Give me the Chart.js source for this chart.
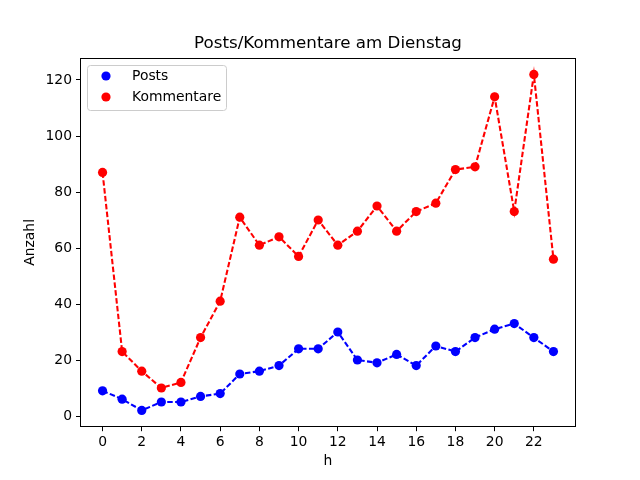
<!DOCTYPE html>
<html>
<head>
<meta charset="utf-8">
<script src="https://cdn.jsdelivr.net/npm/chart.js@4/dist/chart.umd.min.js"></script>
<style>
html,body{margin:0;padding:0;background:#fff;}
#wrap{width:640px;height:480px;}
</style>
</head>
<body>
<div id="wrap"><canvas id="c" width="640" height="480"></canvas></div>
<script>
const hours = [0,1,2,3,4,5,6,7,8,9,10,11,12,13,14,15,16,17,18,19,20,21,22,23];
const posts = [9,6,2,5,5,7,8,15,16,18,24,24,30,20,19,22,18,25,23,28,31,33,28,23];
const kommentare = [87,23,16,10,12,28,41,71,61,64,57,70,61,66,75,66,73,76,88,89,114,73,122,56];
const xTicks = [0,2,4,6,8,10,12,14,16,18,20,22];
const yTicks = [0,20,40,60,80,100,120];
const seriesNames = ['Posts','Kommentare'];
const chartTitle = 'Posts/Kommentare am Dienstag';
const xTitle = 'h';
const yTitle = 'Anzahl';

const FONT = 'DejaVu Sans';
const toXY = arr => arr.map((v,i)=>({x:hours[i], y:v}));

const overlay = {
  id:'overlay',
  afterDraw(chart){
    const ctx = chart.ctx, a = chart.chartArea;
    ctx.save();
    // frame
    ctx.strokeStyle = '#000'; ctx.lineWidth = 1;
    const L = Math.round(a.left)+0.5, T = Math.round(a.top)+0.5, R = Math.round(a.right)-0.5, B = Math.round(a.bottom)-0.5;
    ctx.strokeRect(L, T, R-L, B-T);
    // title
    ctx.fillStyle = '#000';
    ctx.font = '16.7px "' + FONT + '"';
    ctx.textAlign = 'center'; ctx.textBaseline = 'middle';
    ctx.fillText(chartTitle, (a.left+a.right)/2, 44);
    // legend
    const lx = 87.5, ly = 65.5, lw = 139, lh = 45, r = 3;
    ctx.beginPath();
    ctx.moveTo(lx+r, ly); ctx.lineTo(lx+lw-r, ly); ctx.quadraticCurveTo(lx+lw, ly, lx+lw, ly+r);
    ctx.lineTo(lx+lw, ly+lh-r); ctx.quadraticCurveTo(lx+lw, ly+lh, lx+lw-r, ly+lh);
    ctx.lineTo(lx+r, ly+lh); ctx.quadraticCurveTo(lx, ly+lh, lx, ly+lh-r);
    ctx.lineTo(lx, ly+r); ctx.quadraticCurveTo(lx, ly, lx+r, ly);
    ctx.closePath();
    ctx.fillStyle = 'rgba(255,255,255,0.8)'; ctx.fill();
    ctx.strokeStyle = '#cccccc'; ctx.stroke();
    const cols = ['#0000ff','#ff0000'];
    const ys = [76, 97];
    ctx.font = '13.9px "' + FONT + '"';
    ctx.textAlign = 'left'; ctx.textBaseline = 'middle';
    for (let i=0;i<2;i++){
      ctx.beginPath(); ctx.arc(106, ys[i], 4.6, 0, Math.PI*2);
      ctx.fillStyle = cols[i]; ctx.fill();
      ctx.fillStyle = '#000';
      ctx.fillText(seriesNames[i], 132, ys[i]);
    }
    ctx.restore();
  }
};

const dsCommon = {
  borderWidth: 2.08,
  borderDash: [5.5, 2.4],
  pointRadius: 4.6,
  pointHoverRadius: 4.6,
  pointBorderWidth: 0,
  tension: 0,
  fill: false,
  showLine: true
};

new Chart(document.getElementById('c'), {
  type: 'scatter',
  data: {
    datasets: [
      Object.assign({label: seriesNames[0], data: toXY(posts), borderColor:'#0000ff', backgroundColor:'#0000ff', pointBackgroundColor:'#0000ff'}, dsCommon),
      Object.assign({label: seriesNames[1], data: toXY(kommentare), borderColor:'#ff0000', backgroundColor:'#ff0000', pointBackgroundColor:'#ff0000'}, dsCommon)
    ]
  },
  options: {
    responsive: false,
    animation: false,
    layout: { padding: { left: 0, right: 64, top: 57.6, bottom: 0 } },
    plugins: { legend: { display: false }, title: { display: false }, tooltip: { enabled: false } },
    scales: {
      x: {
        type: 'linear', min: -1.15, max: 24.15,
        afterBuildTicks: s => { s.ticks = xTicks.map(v=>({value:v})); },
        afterFit: s => { s.height = 52.8; },
        grid: { drawOnChartArea: false, drawTicks: true, tickLength: 4, color: '#000' },
        border: { display: false },
        ticks: { color: '#000', padding: 3, font: { family: FONT, size: 13.9 }, maxRotation: 0, autoSkip: false },
        title: { display: true, text: xTitle, color: '#000', font: { family: FONT, size: 13.9 }, padding: { top: 0, bottom: 10 } }
      },
      y: {
        type: 'linear', min: -4, max: 128,
        afterBuildTicks: s => { s.ticks = yTicks.map(v=>({value:v})); },
        afterFit: s => { s.width = 80; },
        grid: { drawOnChartArea: false, drawTicks: true, tickLength: 4, color: '#000' },
        border: { display: false },
        ticks: { color: '#000', padding: 4, font: { family: FONT, size: 13.9 }, autoSkip: false },
        title: { display: true, text: yTitle, color: '#000', font: { family: FONT, size: 13.9 }, padding: { top: 22, bottom: 0 } }
      }
    }
  },
  plugins: [overlay]
});
</script>
</body>
</html>
